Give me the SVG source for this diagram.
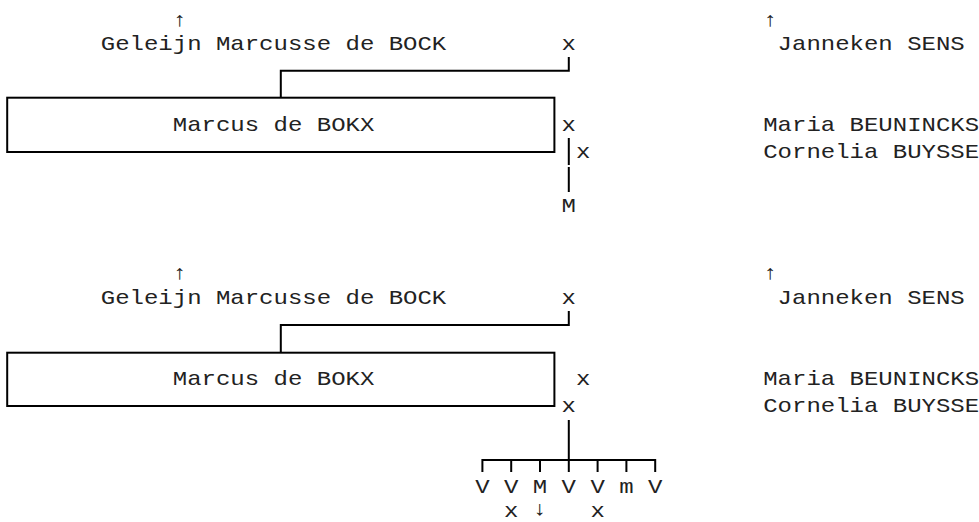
<svg xmlns="http://www.w3.org/2000/svg" width="979" height="522" viewBox="0 0 979 522">
<style>
  text { font-family: "Courier New", "Nimbus Mono PS", "FreeMono", "Liberation Mono", monospace; font-size: 20px; fill: #222; }
  text.ar { font-family: "Liberation Mono", "DejaVu Sans Mono", monospace; font-size: 20px; fill: #222; }
  .ln { fill: none; stroke: #000; stroke-width: 2; }
</style>
<rect x="0" y="0" width="979" height="522" fill="#fff"/>
<g id="connectors">
  <path class="ln" d="M568.8,57 V70.7 H280.8 V97.7"/>
  <path class="ln" d="M568.8,138 V165 M568.8,167 V192"/>
  <path class="ln" d="M568.8,311 V325 H280.8 V352.7"/>
  <path class="ln" d="M568.8,420 V460 M482.4,472 V460 H655.2 V472 M511.2,460 V472 M540,460 V472 M568.8,460 V472 M597.6,460 V472 M626.4,460 V472"/>
</g>
<g id="top-block">
  <g id="node-marcus-1"><rect class="ln" x="7.2" y="97.7" width="547.2" height="54.3"/>
    <g transform="scale(1.2,1)"><text x="144" y="131">Marcus de BOKX</text></g></g>
  <g transform="scale(1.2,1)">
    <g id="node-geleijn-1"><text class="ar" x="150" y="26" text-anchor="middle">↑</text><text x="84" y="50">Geleijn Marcusse de BOCK</text></g>
    <g id="node-x-1"><text x="468" y="50">x</text></g>
    <g id="node-janneken-1"><text class="ar" x="642" y="26" text-anchor="middle">↑</text><text x="648" y="50">Janneken SENS</text></g>
    <g id="node-x-2"><text x="468" y="131">x</text></g>
    <g id="node-maria-1"><text x="636" y="131">Maria BEUNINCKS</text></g>
    <g id="node-x-3"><text x="480" y="158">x</text></g>
    <g id="node-cornelia-1"><text x="636" y="158">Cornelia BUYSSE</text></g>
    <g id="node-m-1"><text x="468" y="212">M</text></g>
  </g>
</g>
<g id="bottom-block">
  <g id="node-marcus-2"><rect class="ln" x="7.2" y="352.7" width="547.2" height="53.3"/>
    <g transform="scale(1.2,1)"><text x="144" y="385">Marcus de BOKX</text></g></g>
  <g transform="scale(1.2,1)">
    <g id="node-geleijn-2"><text class="ar" x="150" y="279" text-anchor="middle">↑</text><text x="84" y="304">Geleijn Marcusse de BOCK</text></g>
    <g id="node-x-4"><text x="468" y="304">x</text></g>
    <g id="node-janneken-2"><text class="ar" x="642" y="279" text-anchor="middle">↑</text><text x="648" y="304">Janneken SENS</text></g>
    <g id="node-x-5"><text x="480" y="385">x</text></g>
    <g id="node-maria-2"><text x="636" y="385">Maria BEUNINCKS</text></g>
    <g id="node-x-6"><text x="468" y="412">x</text></g>
    <g id="node-cornelia-2"><text x="636" y="412">Cornelia BUYSSE</text></g>
    <g id="children">
      <text x="396" y="493">V</text><text x="420" y="493">V</text><text x="444" y="493">M</text><text x="468" y="493">V</text><text x="492" y="493">V</text><text x="516" y="493">m</text><text x="540" y="493">V</text>
      <text x="420" y="517">x</text><text class="ar" x="450" y="515" text-anchor="middle">↓</text><text x="492" y="517">x</text>
    </g>
  </g>
</g>
</svg>
